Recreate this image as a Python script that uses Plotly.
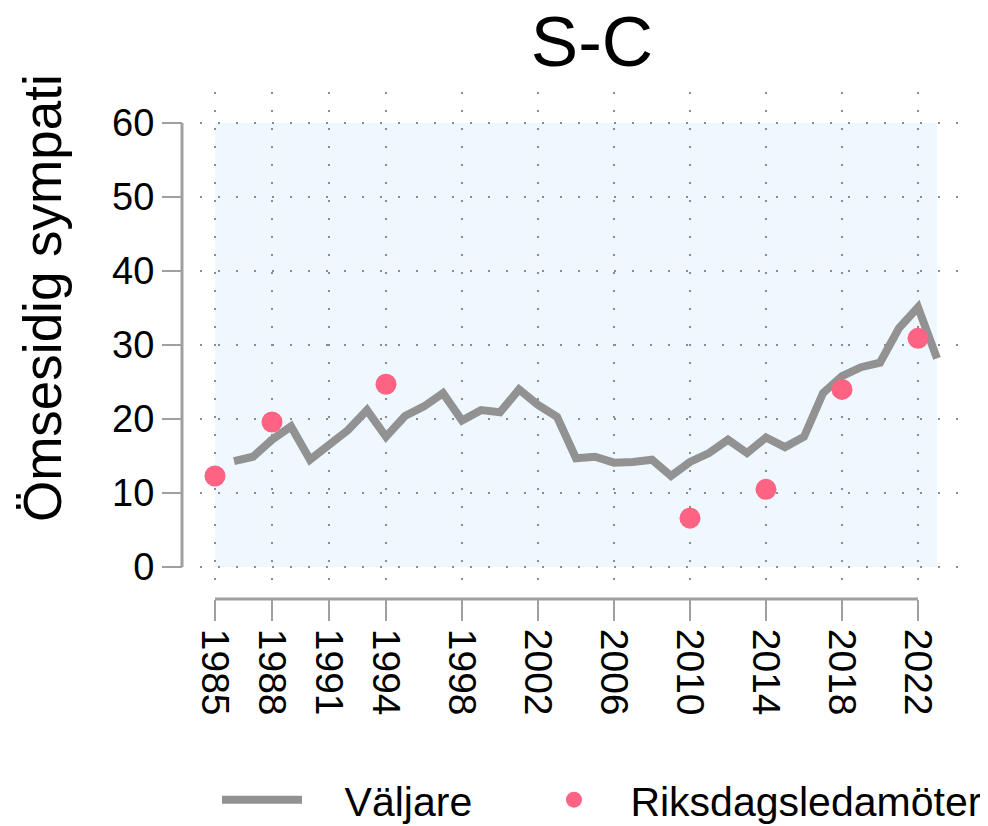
import plotly.graph_objects as go

# voter series (Väljare), one value per year
years = list(range(1986, 2024))
voters = [14.3, 14.9, 17.2, 19.0, 14.5, 16.5, 18.5, 21.2, 17.6, 20.4,
          21.7, 23.5, 19.8, 21.2, 20.9, 24.0, 21.9, 20.3, 14.7, 14.9,
          14.1, 14.2, 14.5, 12.3, 14.2, 15.4, 17.2, 15.4, 17.5, 16.2,
          17.6, 23.5, 25.8, 27.0, 27.6, 32.3, 35.1, 28.2]

# members of parliament (Riksdagsledamöter), election years only
mp_years = [1985, 1988, 1994, 2010, 2014, 2018, 2022]
mp_values = [12.3, 19.6, 24.7, 6.6, 10.5, 24.0, 30.9]

xticks = [1985, 1988, 1991, 1994, 1998, 2002, 2006, 2010, 2014, 2018, 2022]
yticks = [0, 10, 20, 30, 40, 50, 60]

# the page puts the figure 8px in from the corner, so size it to fit the window
OFF = 8
W, H = 988 - OFF, 826 - OFF


def px(x):
    # window pixel -> paper fraction (horizontal)
    return (x - OFF) / W


def py(y):
    # window pixel -> paper fraction (vertical)
    return 1 - (y - OFF) / H


font = "Liberation Sans, Arial, Helvetica, sans-serif"
axis_gray = "#a0a0a0"
grid_gray = "#8c8c8c"
nb = "\u00a0"

fig = go.Figure()
fig.add_trace(go.Scatter(x=years, y=voters, mode="lines", name=nb * 3 + "\u200aVäljare",
                         line=dict(color="#929292", width=8), legend="legend", showlegend=True))
fig.add_trace(go.Scatter(x=mp_years, y=mp_values, mode="markers", name=nb + "Riksdagsledamöter",
                         marker=dict(color="#ff6384", size=21), legend="legend2", showlegend=True))

# light blue plotting area and the short axis lines
fig.add_shape(type="rect", xref="x", yref="y", x0=xticks[0], x1=years[-1],
              y0=yticks[0], y1=yticks[-1], fillcolor="#f0f8ff", line_width=0, layer="below")
fig.add_shape(type="line", xref="paper", yref="y", x0=px(182), x1=px(182),
              y0=yticks[0], y1=yticks[-1], line=dict(color=axis_gray, width=3))
fig.add_shape(type="line", xref="x", yref="paper", x0=xticks[0], x1=xticks[-1],
              y0=py(599), y1=py(599), line=dict(color=axis_gray, width=3))

fig.add_annotation(text="Ömsesidig sympati", xref="paper", yref="paper",
                   x=px(42), y=py(298), xanchor="center", yanchor="middle",
                   textangle=-90, showarrow=False,
                   font=dict(size=53, family=font, color="black"))

legend_style = dict(orientation="h", xanchor="left", y=py(800), yanchor="middle",
                    font=dict(size=41), itemwidth=80, bgcolor="rgba(0,0,0,0)")

fig.update_layout(
    width=W, height=H,
    showlegend=True,
    margin=dict(l=0, r=0, t=0, b=0, autoexpand=False),
    paper_bgcolor="white", plot_bgcolor="rgba(0,0,0,0)",
    font=dict(family=font, color="black"),
    title=dict(text="S-C", x=px(592), y=py(41), xanchor="center", yanchor="middle",
               xref="paper", yref="paper", font=dict(size=71)),
    xaxis=dict(domain=[px(200), px(965)], range=[1985 - 15 / 19, 1985 + 750 / 19],
               anchor="free", position=py(599),
               tickvals=xticks, tickangle=90, ticks="outside", ticklen=21, tickwidth=2,
               tickcolor=axis_gray, tickfont=dict(size=39), showline=False, zeroline=False,
               showgrid=True, gridcolor=grid_gray, gridwidth=2, griddash="2px,16px"),
    yaxis=dict(domain=[py(582), py(92)], range=[-15 / 7.4, 60 + 31 / 7.4],
               anchor="free", position=px(182),
               tickvals=yticks, ticks="outside", ticklen=20, tickwidth=2,
               tickcolor=axis_gray, tickfont=dict(size=38), showline=False, zeroline=False,
               showgrid=True, gridcolor=grid_gray, gridwidth=2, griddash="2px,16px"),
    legend=dict(x=px(217), **legend_style),
    legend2=dict(x=px(529), **legend_style),
)

fig.write_html("out.html")
